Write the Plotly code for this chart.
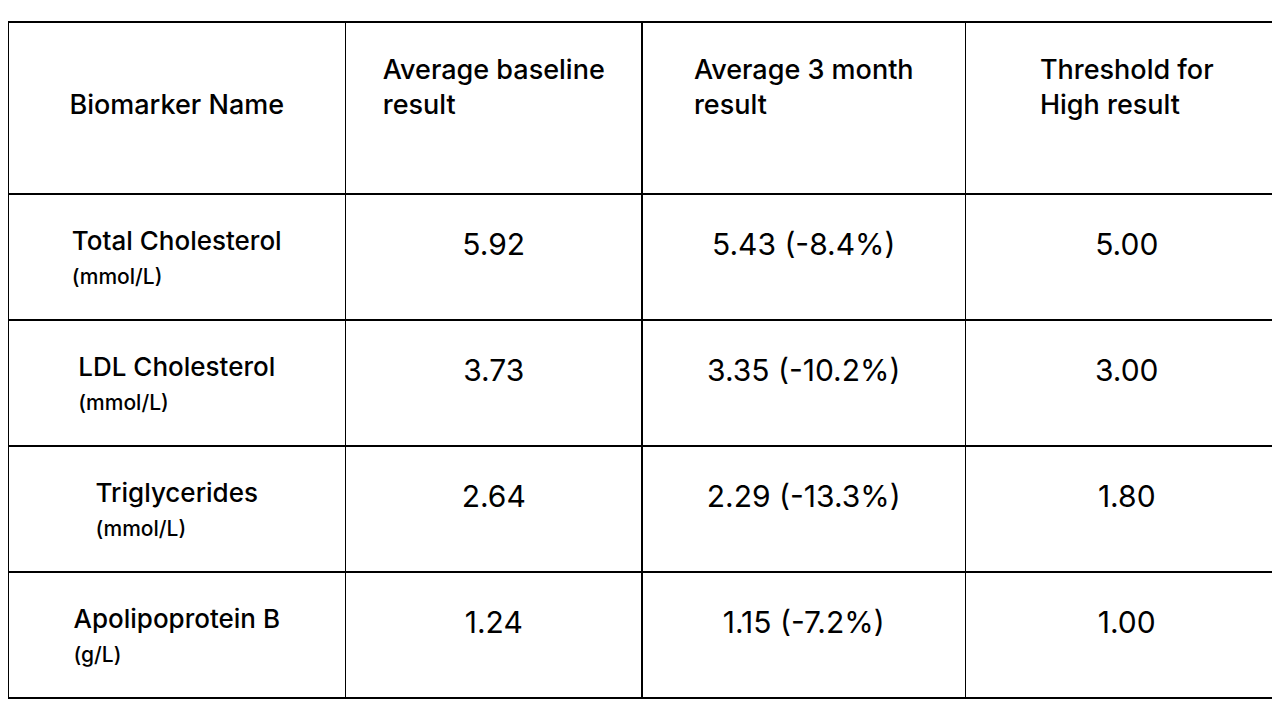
import plotly.graph_objects as go

headers = ["Biomarker Name", "Average baseline<br>result", "Average 3 month<br>result", "Threshold for<br>High result"]
names = ["Total Cholesterol", "LDL Cholesterol", "Triglycerides", "Apolipoprotein B"]
units = ["(mmol/L)", "(mmol/L)", "(mmol/L)", "(g/L)"]
baseline = ["5.92", "3.73", "2.64", "1.24"]
three_month = ["5.43 (-8.4%)", "3.35 (-10.2%)", "2.29 (-13.3%)", "1.15 (-7.2%)"]
threshold = ["5.00", "3.00", "1.80", "1.00"]

# table cells have no vertical centering, so push text down with a spacer line
pad = "<span style='font-size:14px'> </span><br>"
head_cells = [pad + h for h in headers]
head_cells[0] = pad + pad + headers[0]
first_col = [pad + n + "<br><span style='font-size:21px'>" + u + "</span>" for n, u in zip(names, units)]
single = lambda vals: [pad + v for v in vals]

fig = go.Figure(go.Table(
    columnwidth=[337, 296, 323, 322],
    header=dict(values=head_cells, height=172, align="center",
                fill_color="white", line=dict(color="black", width=1.5),
                font=dict(family="Inter, sans-serif", size=27, color="black", weight=500)),
    cells=dict(values=[first_col, single(baseline), single(three_month), single(threshold)],
               height=126, align="center", fill_color="white",
               line=dict(color="black", width=1.5),
               font=dict(family="Inter, sans-serif", size=[26, 30, 30, 30], color="black",
                         weight=[500, 400, 400, 400])),
))
fig.update_layout(width=1280, height=720, margin=dict(l=0, r=0, t=14, b=0),
                  paper_bgcolor="white")
fig.write_html("out.html")
